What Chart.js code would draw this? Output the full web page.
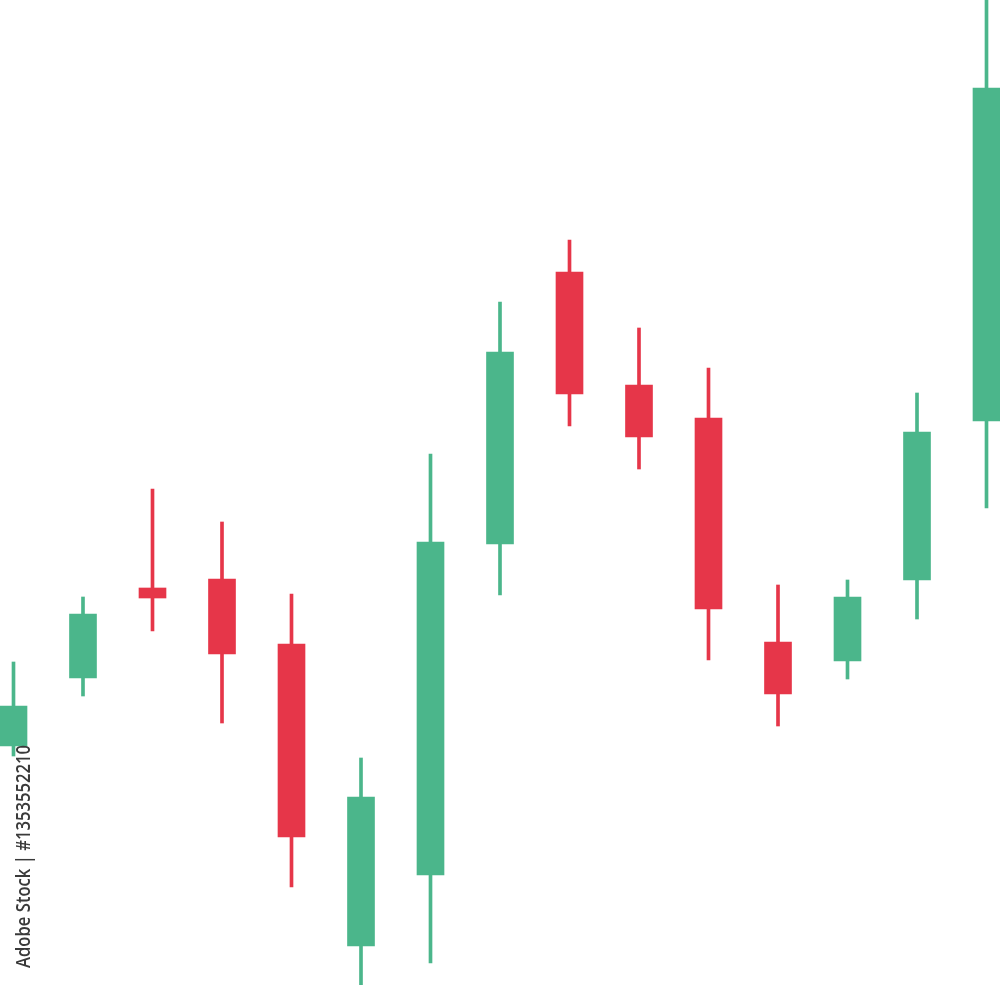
<!DOCTYPE html>
<html>
<head>
<meta charset="utf-8">
<script src="https://cdn.jsdelivr.net/npm/chart.js@4/dist/chart.umd.min.js"></script>
<style>
  html, body { margin: 0; padding: 0; background: #ffffff; }
  #wrap { width: 1000px; height: 985px; position: relative; }
</style>
</head>
<body>
<div id="wrap"><canvas id="candles"></canvas></div>
<script>
  // one entry per session
  let sessions = [0, 1, 2, 3, 4, 5, 6, 7, 8, 9, 10, 11, 12, 13, 14];
  let openPrices  = [123.9, 130.7, 139.7, 140.6, 134.1, 103.9, 111.0, 144.1, 171.3, 160.0, 156.7, 134.3, 132.4, 140.5, 156.4];
  let closePrices = [127.9, 137.1, 138.7, 133.1, 114.8, 118.8, 144.3, 163.3, 159.1, 154.8, 137.6, 129.1, 138.8, 155.3, 189.7];
  let highPrices  = [132.3, 138.8, 149.6, 146.3, 139.1, 122.7, 153.1, 168.3, 174.5, 165.7, 161.7, 140.0, 140.5, 159.2, 200.0];
  let lowPrices   = [122.9, 128.9, 135.4, 126.2, 109.8, 99.0, 102.2, 139.0, 155.9, 151.6, 132.5, 125.9, 130.6, 136.6, 147.7];

  const upColor = '#4bb68b';
  const downColor = '#e63649';

  const candleColor = (ctx) => {
    let i = ctx.dataIndex;
    return closePrices[i] >= openPrices[i] ? upColor : downColor;
  };

  const watermark = {
    id: 'watermark',
    afterDraw: (chart) => {
      let c = chart.ctx;
      let txt = 'Adobe Stock | #1353552210';
      c.save();
      c.translate(30, 968);
      c.rotate(-Math.PI / 2);
      c.fillStyle = '#3a3a3a';
      c.font = '600 20px "Open Sans"';
      c.textBaseline = 'alphabetic';
      let w = c.measureText(txt).width;
      c.scale(223 / w, 1);
      c.fillText(txt, 0, 0);
      c.restore();
    }
  };

  let ctx = document.getElementById('candles').getContext('2d');

  let chart = new Chart(ctx, {
    type: 'bar',
    data: {
      datasets: [
        {
          label: 'wick',
          data: sessions.map((s, i) => ({ x: s, y: [lowPrices[i], highPrices[i]] })),
          backgroundColor: candleColor,
          barThickness: 3,
          grouped: false,
          order: 2
        },
        {
          label: 'body',
          data: sessions.map((s, i) => ({ x: s, y: [openPrices[i], closePrices[i]] })),
          backgroundColor: candleColor,
          barThickness: 27,
          grouped: false,
          order: 1
        }
      ]
    },
    options: {
      responsive: true,
      maintainAspectRatio: false,
      animation: false,
      layout: { padding: 0 },
      scales: {
        x: {
          type: 'linear',
          display: false,
          offset: false,
          min: -0.1942,
          max: 14.1942
        },
        y: {
          display: false,
          min: 100,
          max: 198.5
        }
      },
      plugins: {
        legend: { display: false },
        tooltip: { enabled: false }
      }
    },
    plugins: [watermark]
  });
</script>
</body>
</html>
